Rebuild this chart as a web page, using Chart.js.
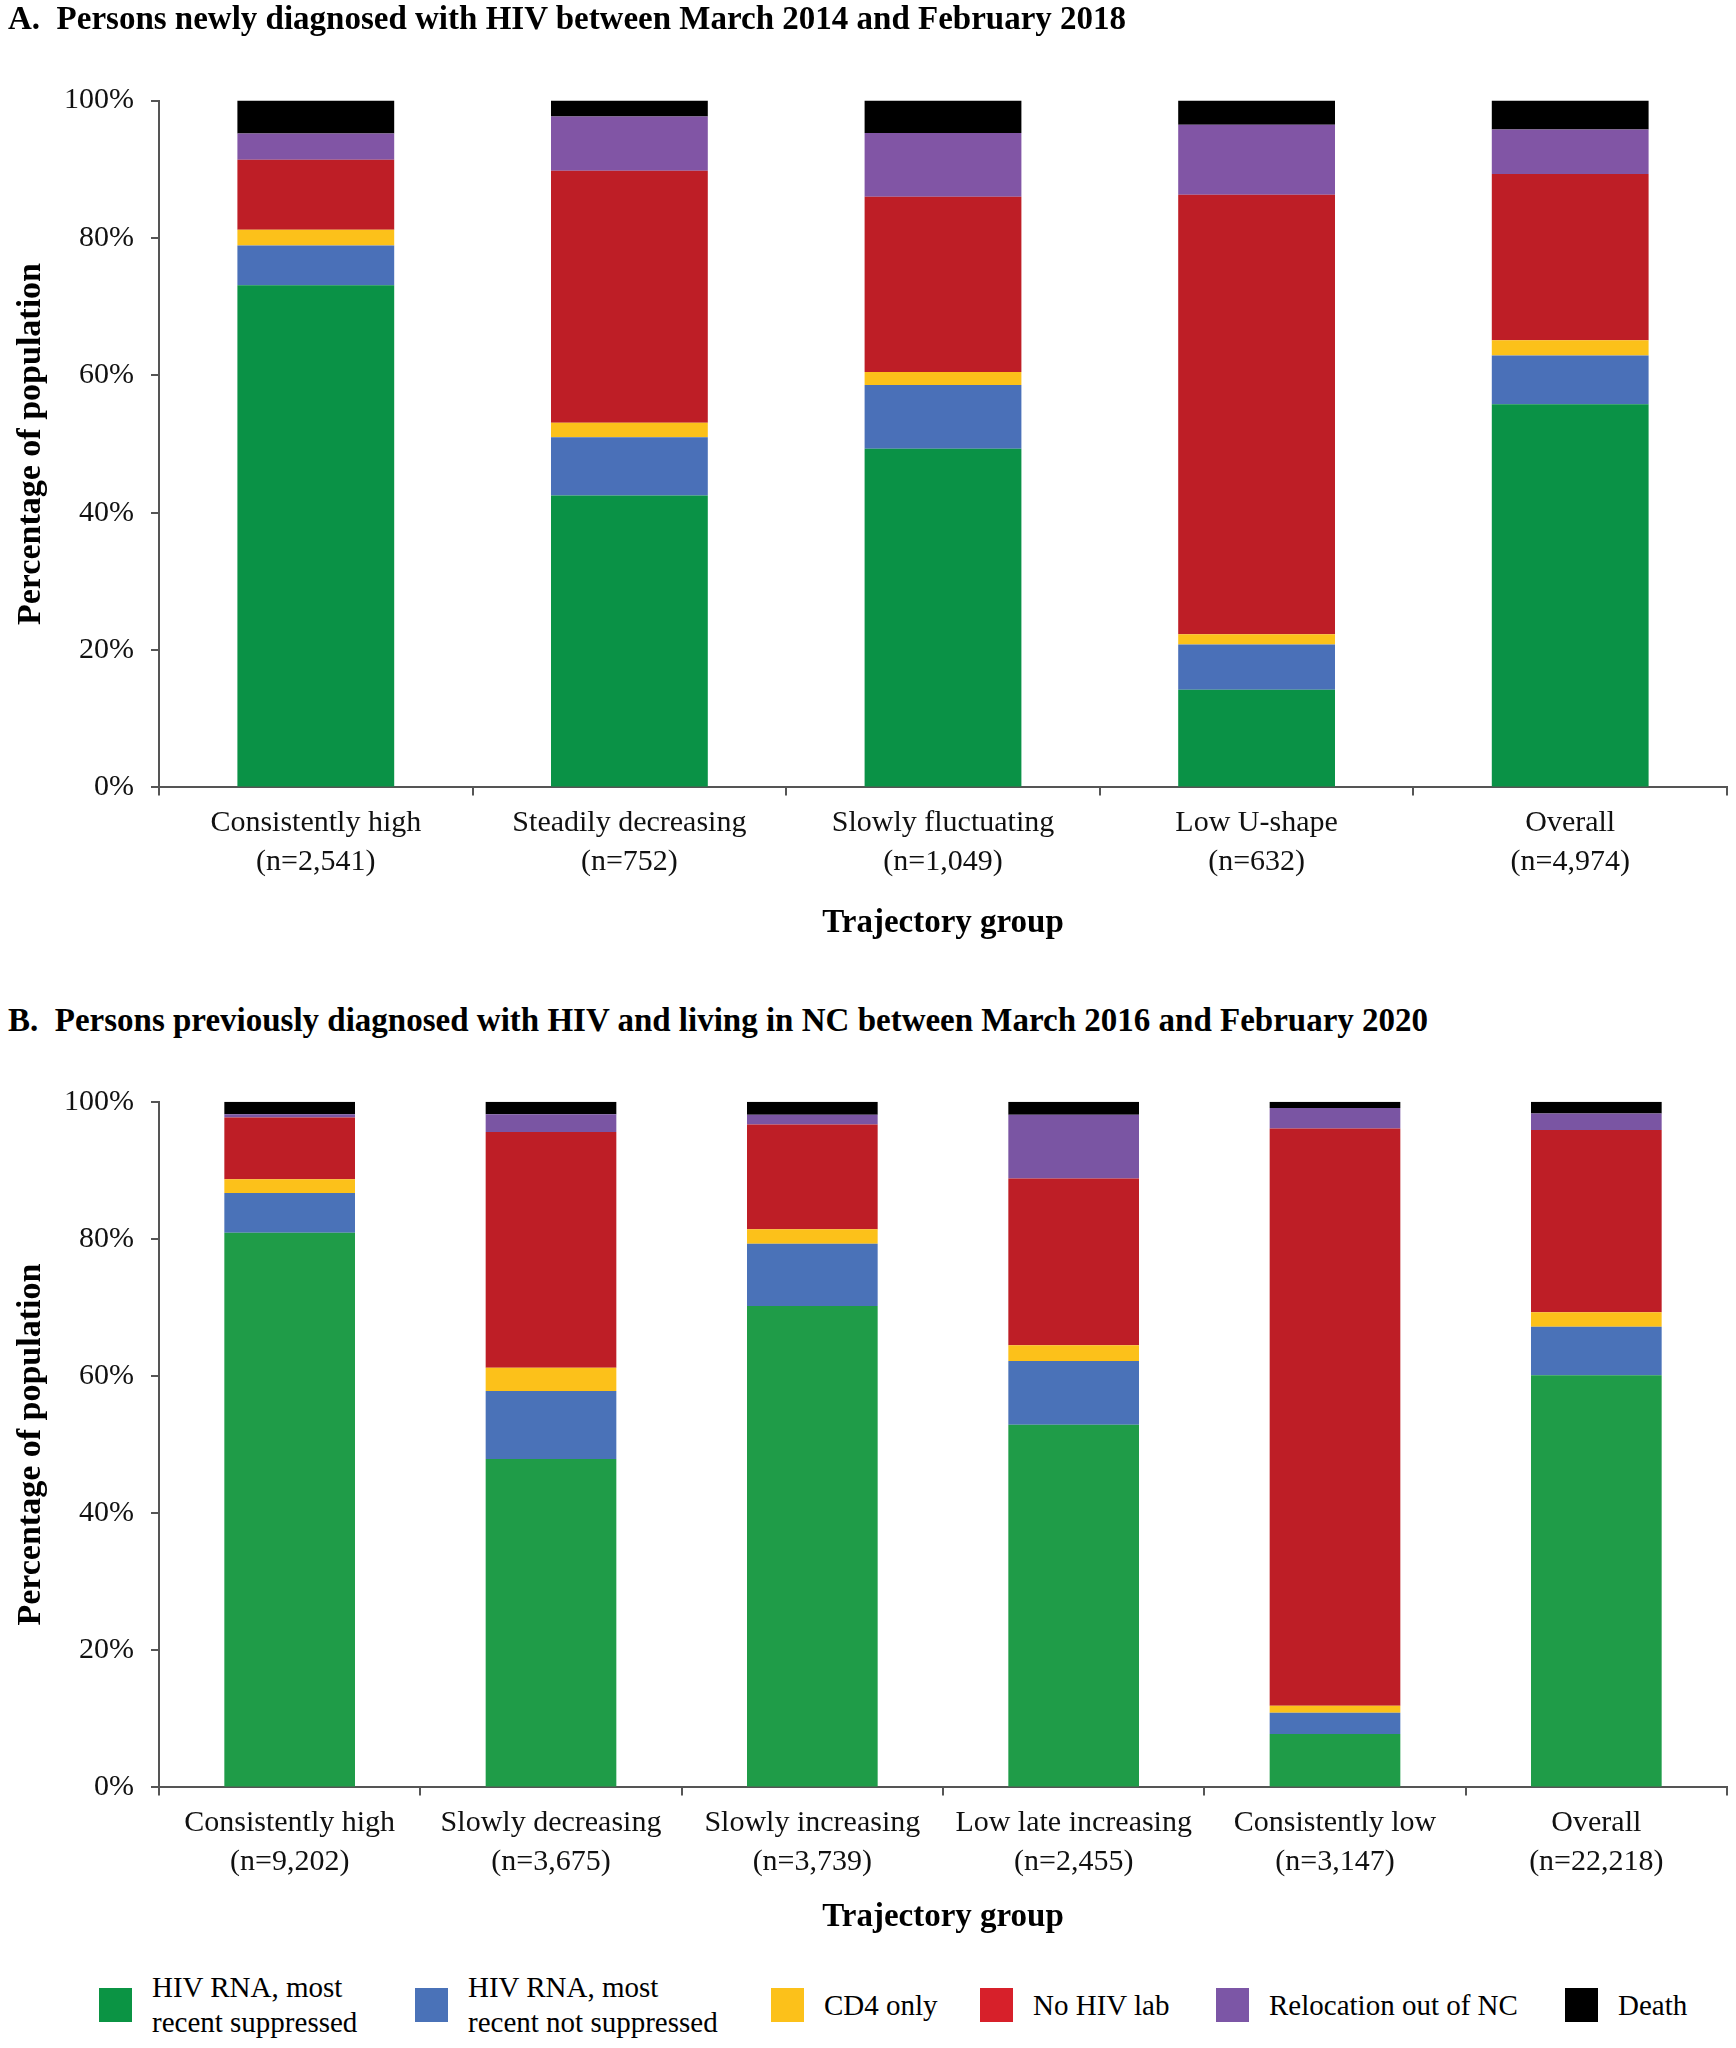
<!DOCTYPE html>
<html>
<head>
<meta charset="utf-8">
<script src="https://cdn.jsdelivr.net/npm/chart.js@4.4.1/dist/chart.umd.min.js"></script>
<style>
  html, body { margin: 0; padding: 0; background: #fff; }
  body { position: relative; width: 1736px; height: 2048px; overflow: hidden; font-family: 'Liberation Serif', 'Times New Roman', serif; color: #000; }
  .panel-title { position: absolute; left: 8px; font-weight: bold; font-size: 33px; line-height: 36px; white-space: pre; z-index: 2; }
  .wrap { position: absolute; left: 0; width: 1736px; }
  .legend-item { position: absolute; top: 1970px; display: flex; align-items: center; }
  .legend-box { width: 33px; height: 34px; margin-right: 20px; flex: none; }
  .legend-text { font-size: 29px; line-height: 35px; white-space: pre; }
</style>
</head>
<body>
<div class="panel-title" style="top:0px">A.  Persons newly diagnosed with HIV between March 2014 and February 2018</div>
<div class="wrap" style="top:0px;height:943px"><canvas id="chartA"></canvas></div>
<div class="panel-title" style="top:1002px">B.  Persons previously diagnosed with HIV and living in NC between March 2016 and February 2020</div>
<div class="wrap" style="top:1040px;height:897px"><canvas id="chartB"></canvas></div>
<div id="legend"></div>

<script>
  // Panel A: newly diagnosed
  var groupsA = [
    ['Consistently high', '(n=2,541)'],
    ['Steadily decreasing', '(n=752)'],
    ['Slowly fluctuating', '(n=1,049)'],
    ['Low U-shape', '(n=632)'],
    ['Overall', '(n=4,974)']
  ];
  var suppressedA    = [73.1, 42.5, 49.3, 14.2, 55.8];
  var notSuppressedA = [5.8, 8.5, 9.3, 6.6, 7.1];
  var cd4OnlyA       = [2.3, 2.1, 1.9, 1.5, 2.2];
  var noLabA         = [10.2, 36.7, 25.5, 64.0, 24.2];
  var relocationA    = [3.8, 7.9, 9.3, 10.2, 6.5];
  var deathA         = [4.8, 2.3, 4.7, 3.5, 4.2];

  // Panel B: previously diagnosed
  var groupsB = [
    ['Consistently high', '(n=9,202)'],
    ['Slowly decreasing', '(n=3,675)'],
    ['Slowly increasing', '(n=3,739)'],
    ['Low late increasing', '(n=2,455)'],
    ['Consistently low', '(n=3,147)'],
    ['Overall', '(n=22,218)']
  ];
  var suppressedB    = [80.9, 47.9, 70.2, 52.9, 7.8, 60.1];
  var notSuppressedB = [5.8, 9.9, 9.1, 9.3, 3.1, 7.1];
  var cd4OnlyB       = [2.0, 3.4, 2.1, 2.3, 1.0, 2.1];
  var noLabB         = [9.0, 34.4, 15.3, 24.3, 84.2, 26.6];
  var relocationB    = [0.5, 2.6, 1.4, 9.3, 3.0, 2.4];
  var deathB         = [1.8, 1.8, 1.9, 1.9, 0.9, 1.7];

  var seriesNames = [
    'HIV RNA, most\nrecent suppressed',
    'HIV RNA, most\nrecent not suppressed',
    'CD4 only',
    'No HIV lab',
    'Relocation out of NC',
    'Death'
  ];
  var yTicks = [0, 20, 40, 60, 80, 100];

  var colorsA = ['#0a9246', '#4a70b8', '#fcc11a', '#be1e26', '#8155a5', '#000000'];
  var colorsB = ['#1f9c48', '#4a72b8', '#fcc11a', '#be1e26', '#7a55a3', '#000000'];

  var serif = "'Liberation Serif', 'Times New Roman', serif";
  var axisColor = '#555555';

  function makeDatasets(seriesList, colors) {
    return seriesList.map(function (vals, i) {
      return {
        label: seriesNames[i].replace('\n', ' '),
        data: vals,
        backgroundColor: colors[i],
        borderWidth: 0,
        barPercentage: 0.5,
        categoryPercentage: 1.0
      };
    });
  }

  function makeChart(canvasId, labels, datasets, padTop, titlePad) {
    var ctx = document.getElementById(canvasId);
    return new Chart(ctx, {
      type: 'bar',
      data: { labels: labels, datasets: datasets },
      options: {
        responsive: true,
        maintainAspectRatio: false,
        animation: false,
        layout: { padding: { top: padTop, right: 9, left: 0, bottom: 0 } },
        plugins: { legend: { display: false }, tooltip: { enabled: false } },
        scales: {
          x: {
            stacked: true,
            grid: { display: true, drawOnChartArea: false, drawTicks: true, tickLength: 8, color: axisColor, lineWidth: 2, offset: true },
            border: { display: true, color: axisColor, width: 2 },
            ticks: { color: '#111', padding: 8, maxRotation: 0, autoSkip: false, font: { family: serif, size: 30, lineHeight: 1.3 } },
            title: { display: true, text: 'Trajectory group', color: '#000', padding: { top: titlePad, bottom: 0 }, font: { family: serif, size: 33, weight: 'bold', lineHeight: 1.2 } }
          },
          y: {
            stacked: true,
            min: 0,
            max: 100,
            afterBuildTicks: function (axis) {
              axis.ticks = yTicks.map(function (v) { return { value: v }; });
            },
            afterFit: function (axis) { axis.width = 159; },
            grid: { display: true, drawOnChartArea: false, drawTicks: true, tickLength: 8, color: axisColor, lineWidth: 2 },
            border: { display: true, color: axisColor, width: 2 },
            ticks: {
              color: '#111', padding: 17,
              font: { family: serif, size: 30 },
              callback: function (v) { return v + '%'; }
            },
            title: { display: true, text: 'Percentage of population', color: '#000', padding: { top: 11, bottom: 11 }, font: { family: serif, size: 34, weight: 'bold', lineHeight: 1.2 } }
          }
        }
      }
    });
  }

  makeChart('chartA', groupsA,
    makeDatasets([suppressedA, notSuppressedA, cd4OnlyA, noLabA, relocationA, deathA], colorsA), 100.6, 14);
  makeChart('chartB', groupsB,
    makeDatasets([suppressedB, notSuppressedB, cd4OnlyB, noLabB, relocationB, deathB], colorsB), 61.8, 8);

  // legend below panel B
  var legendX = [99, 415, 771, 980, 1216, 1565];
  var legendColors = ['#0b9444', '#4a72b8', '#fcc11a', '#d7202a', '#7c56a6', '#000000'];
  var legend = document.getElementById('legend');
  seriesNames.forEach(function (name, i) {
    var item = document.createElement('div');
    item.className = 'legend-item';
    item.style.left = legendX[i] + 'px';
    item.style.height = '70px';
    var box = document.createElement('div');
    box.className = 'legend-box';
    box.style.background = legendColors[i];
    var txt = document.createElement('div');
    txt.className = 'legend-text';
    txt.textContent = name;
    item.appendChild(box);
    item.appendChild(txt);
    legend.appendChild(item);
  });
</script>
</body>
</html>
